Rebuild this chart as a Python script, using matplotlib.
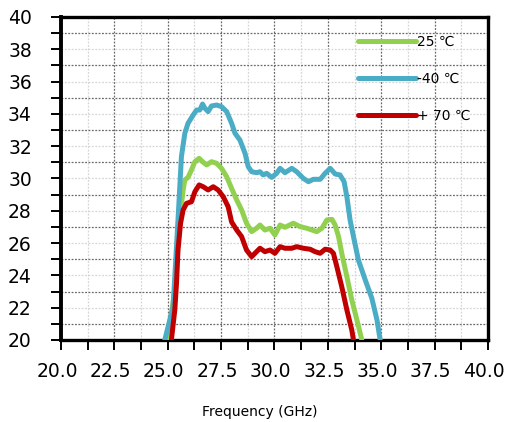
import matplotlib
matplotlib.use("Agg")
import matplotlib.pyplot as plt
import matplotlib.transforms as mtransforms
from matplotlib.ticker import MultipleLocator, FormatStrFormatter

# ---- data (GHz, value) ----
freq_m40 = [24.86, 25.25, 25.48, 25.64, 25.80, 25.95, 26.19, 26.35, 26.50, 26.63,
            26.74, 26.89, 27.05, 27.29, 27.52, 27.76, 27.99, 28.15, 28.38, 28.62,
            28.77, 28.93, 29.16, 29.32, 29.47, 29.63, 29.87, 30.10, 30.26, 30.49,
            30.81, 31.04, 31.35, 31.59, 31.82, 32.14, 32.37, 32.61, 32.84, 33.07,
            33.26, 33.39, 33.54, 33.70, 33.93, 34.25, 34.56, 34.80, 34.95]
val_m40 = [20.00, 22.06, 27.43, 31.35, 32.80, 33.42, 33.93, 34.24, 34.24, 34.61,
           34.35, 34.14, 34.49, 34.55, 34.45, 34.14, 33.42, 32.80, 32.38, 31.56,
           30.73, 30.42, 30.36, 30.42, 30.22, 30.32, 30.07, 30.32, 30.63, 30.36,
           30.63, 30.42, 30.01, 29.80, 29.95, 29.95, 30.32, 30.63, 30.28, 30.22,
           29.80, 28.87, 27.43, 26.40, 24.95, 23.72, 22.58, 21.24, 20.00]

freq_25 = [25.00, 25.33, 25.56, 25.72, 25.80, 25.95, 26.11, 26.27, 26.47, 26.63,
           26.82, 27.05, 27.29, 27.52, 27.76, 27.99, 28.23, 28.46, 28.69, 28.93,
           29.16, 29.32, 29.55, 29.79, 30.02, 30.26, 30.49, 30.88, 31.20, 31.51,
           31.98, 32.22, 32.45, 32.69, 32.84, 33.00, 33.15, 33.39, 33.62, 33.86,
           34.09]
val_25 = [20.00, 23.10, 27.43, 29.29, 29.91, 30.07, 30.53, 31.04, 31.25, 31.04,
          30.84, 31.04, 30.94, 30.63, 30.11, 29.39, 28.67, 28.05, 27.23, 26.71,
          26.92, 27.12, 26.81, 26.92, 26.50, 27.12, 26.98, 27.23, 27.02, 26.92,
          26.71, 26.92, 27.43, 27.47, 27.12, 26.40, 25.37, 23.92, 22.48, 21.24,
          20.00]

freq_70 = [25.17, 25.33, 25.41, 25.48, 25.60, 25.72, 25.88, 26.11, 26.27, 26.47,
           26.66, 26.89, 27.13, 27.36, 27.60, 27.83, 27.99, 28.23, 28.46, 28.69,
           28.93, 29.16, 29.32, 29.55, 29.79, 30.02, 30.26, 30.49, 30.81, 31.04,
           31.35, 31.67, 31.90, 32.14, 32.37, 32.61, 32.76, 32.92, 33.15, 33.39,
           33.62, 33.70]
val_70 = [20.00, 21.86, 23.51, 25.57, 27.23, 28.05, 28.46, 28.56, 29.18, 29.60,
          29.49, 29.29, 29.49, 29.29, 28.87, 28.25, 27.31, 26.81, 26.40, 25.57,
          25.16, 25.47, 25.68, 25.47, 25.57, 25.37, 25.78, 25.68, 25.68, 25.78,
          25.68, 25.62, 25.47, 25.37, 25.62, 25.57, 25.37, 24.54, 23.30, 21.86,
          20.62, 20.00]

labels = ["25 \u2103", "-40 \u2103", "+ 70 \u2103"]
colors = ["#92D050", "#4BACC6", "#C00000"]

fig = plt.figure(figsize=(5.06, 4.22), dpi=100)
ax = fig.add_axes([61 / 506, 82 / 422, 427 / 506, 323 / 422])

series = [(freq_25, val_25), (freq_m40, val_m40), (freq_70, val_70)]
for (fx, fy), lab, col in zip(series, labels, colors):
    ax.plot(fx, fy, color=col, lw=3.6, label=lab,
            solid_capstyle="round", solid_joinstyle="round", zorder=3)

ax.set_xlim(20, 40)
ax.set_ylim(20, 40)
ax.xaxis.set_major_locator(MultipleLocator(2.5))
ax.xaxis.set_minor_locator(MultipleLocator(1.25))
ax.xaxis.set_major_formatter(FormatStrFormatter("%.1f"))
ax.yaxis.set_major_locator(MultipleLocator(2))
ax.yaxis.set_minor_locator(MultipleLocator(1))

# grid: dark dashed vs light dashed
dark = dict(color="#6a6a6a", lw=0.9, ls=(0, (1.5, 1.2)))
light = dict(color="#d6d6d6", lw=0.9, ls=(0, (1.5, 1.2)))
ax.xaxis.grid(True, which="major", **dark)
ax.xaxis.grid(True, which="minor", **light)
ax.yaxis.grid(True, which="minor", **dark)
ax.yaxis.grid(True, which="major", **light)
ax.set_axisbelow(True)

for sp in ax.spines.values():
    sp.set_linewidth(2.4)
    sp.set_color("black")
ax.spines["left"].set_linewidth(2.8)

ax.tick_params(axis="both", which="both", direction="out", length=7,
               width=1.4, color="black", labelsize=13.5)
ax.tick_params(axis="y", which="both", pad=14)
ax.tick_params(axis="x", which="both", pad=9)

# x labels sit a few pixels left of their ticks, as in the original
shift = mtransforms.ScaledTranslation(-4 / 100, 0, fig.dpi_scale_trans)
for lbl in ax.get_xticklabels():
    lbl.set_transform(lbl.get_transform() + shift)

ax.set_xlabel("Frequency (GHz)", fontsize=10)
ax.xaxis.set_label_coords((260 - 61) / 427, -0.2)

ax.legend(loc="upper left", bbox_to_anchor=(0.695, 0.945), frameon=False,
          fontsize=10, handlelength=4.2, handletextpad=0.1,
          labelspacing=1.65, borderpad=0, borderaxespad=0)

fig.savefig("out.png", dpi=100)
